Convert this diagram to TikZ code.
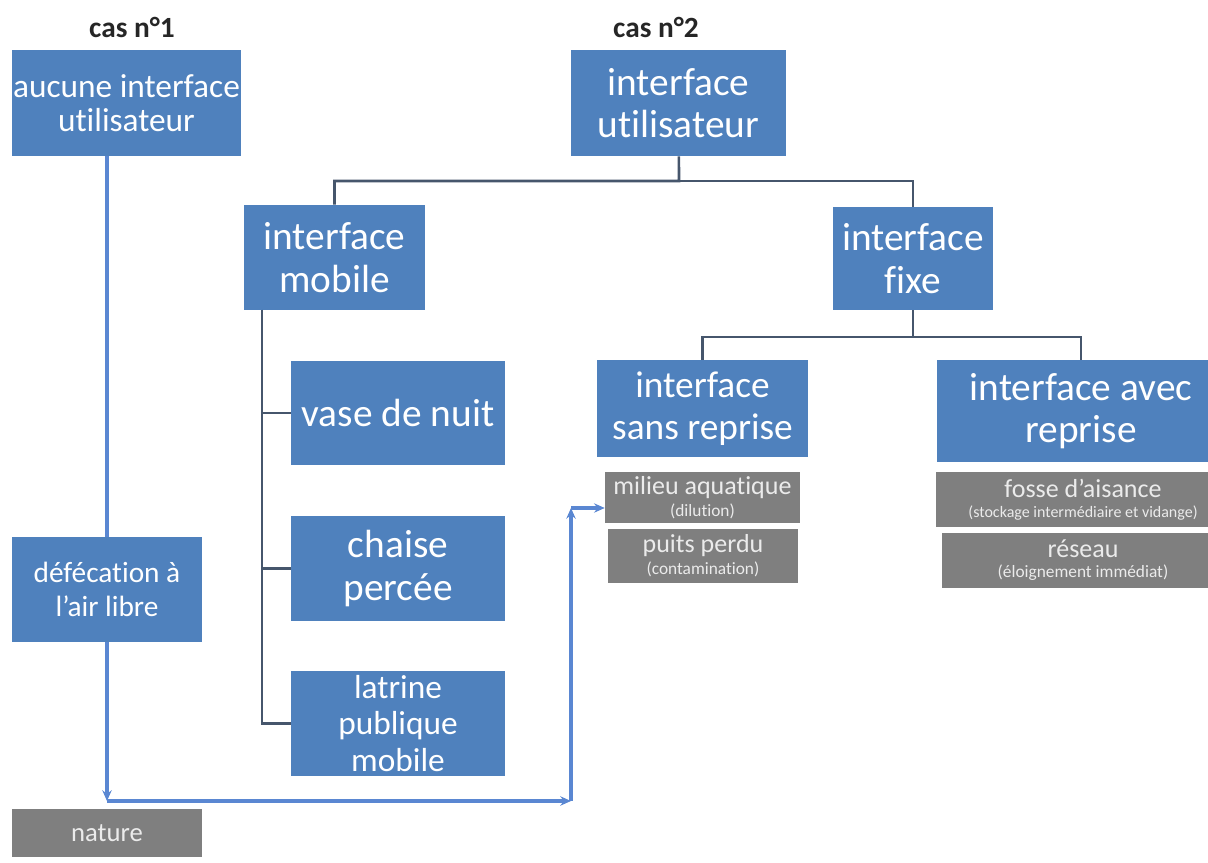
\documentclass[tikz,border=0pt]{standalone}
\usepackage{fontspec}
\setmainfont{Carlito}[Ligatures=NoCommon]
\usetikzlibrary{arrows.meta}

\definecolor{boxblue}{HTML}{4F81BD}
\definecolor{boxgrey}{HTML}{7F7F7F}
\definecolor{treeline}{HTML}{46566C}
\definecolor{flowblue}{HTML}{5A87D2}

\newcommand{\greymain}[1]{{\fontsize{19.5}{21}\selectfont #1}}
\newcommand{\greynote}[1]{{\fontsize{13}{14}\selectfont #1}}

\begin{document}
\begin{tikzpicture}
  [
    x=0.75pt, y=-0.75pt,
    dims/.style 2 args={minimum width=#1*0.75pt, minimum height=#2*0.75pt},
    bluebox/.style={fill=boxblue, text=white, inner sep=0pt, align=center},
    greybox/.style={fill=boxgrey, text=white!92!black, inner sep=0pt, align=center},
    big/.style={font=\fontsize{29.5}{32}\selectfont},
    tree/.style={draw=treeline, line width=2pt},
    flow/.style={draw=flowblue, line width=2.8pt},
    tip/.style={-{Stealth[length=8pt, width=7pt]}},
  ]
  \useasboundingbox (0,0) rectangle (1208,863);

  % headings
  \node [font=\bfseries\fontsize{22}{24}\selectfont, text=black!85] (cas1) at (132,27) {cas n°1};
  \node [font=\bfseries\fontsize{22}{24}\selectfont, text=black!85] (cas2) at (656,27) {cas n°2};

  % case 1
  \node [bluebox, dims={229}{106}, font=\fontsize{25}{26}\selectfont] (aucune) at (126.5,103) {aucune interface\\utilisateur};
  \node [bluebox, dims={190}{105}, font=\fontsize{22}{25}\selectfont] (defec) at (107,589.5) {défécation à\\l’air libre};
  \node [greybox, dims={190}{48}, font=\fontsize{20}{22}\selectfont] (nature) at (107,833) {nature};

  % case 2
  \node [bluebox, dims={215}{106}, big] (util) at (678.5,103) {interface\\utilisateur};
  \node [bluebox, dims={181}{105}, big] (mobile) at (334.5,257.5) {interface\\mobile};
  \node [bluebox, dims={160}{103}, big] (fixe) at (913,258.5) {interface\\fixe};
  \node [bluebox, dims={211}{97}, font=\fontsize{28}{31}\selectfont] (sans) at (702.5,408.5) {interface\\sans reprise};
  \node [bluebox, dims={288}{102}, big] (avec) at (1081,411) {interface avec\\reprise};

  % mobile
  \node [bluebox, dims={214}{104}, big] (vase) at (398,413) {vase de nuit};
  \node [bluebox, dims={214}{105}, big] (chaise) at (398,568.5) {chaise\\percée};
  \node [bluebox, dims={214}{105}, font=\fontsize{25}{27.5}\selectfont] (latrine) at (398,723.5) {latrine\\publique\\mobile};

  % outlets
  \node [greybox, dims={195}{51}] (milieu) at (702.5,497.5) {\greymain{milieu aquatique}\\[3pt]\greynote{(dilution)}};
  \node [greybox, dims={190}{54}] (puits) at (703,556) {\greymain{puits perdu}\\[3pt]\greynote{(contamination)}};
  \node [greybox, dims={294}{55}] (fosse) at (1083,499.5) {\greymain{fosse d’aisance}\\[3pt]{\fontsize{12}{13}\selectfont (stockage intermédiaire et vidange)}};
  \node [greybox, dims={282}{55}] (reseau) at (1083,560.5) {\greymain{réseau}\\[3pt]\greynote{(éloignement immédiat)}};

  % tree
  \coordinate (ubar) at (679,181);
  \draw [tree] (util) -- (ubar) -| (mobile);
  \draw [tree] (ubar) -| (fixe);
  \coordinate (fbar) at (913,337);
  \draw [tree] (fixe) -- (fbar) -| (sans);
  \draw [tree] (fbar) -| (avec);
  \coordinate (mtrunk) at (262,310);
  \foreach \k in {vase,chaise,latrine} {
    \draw [tree] (mtrunk) |- (\k);
  }

  % flow
  \coordinate (corner1) at (107,801);
  \coordinate (corner2) at (571,801);
  \coordinate (corner3) at (571,508);
  \draw [flow] (defec.north) -- (defec.north |- aucune.south);
  \draw [flow, tip] (defec) -- (corner1);
  \draw [flow, tip] (corner1) -- (corner2);
  \draw [flow, tip] (corner2) -- (corner3);
  \draw [flow, tip] (corner3) -- (corner3 -| milieu.west);

\end{tikzpicture}
\end{document}
